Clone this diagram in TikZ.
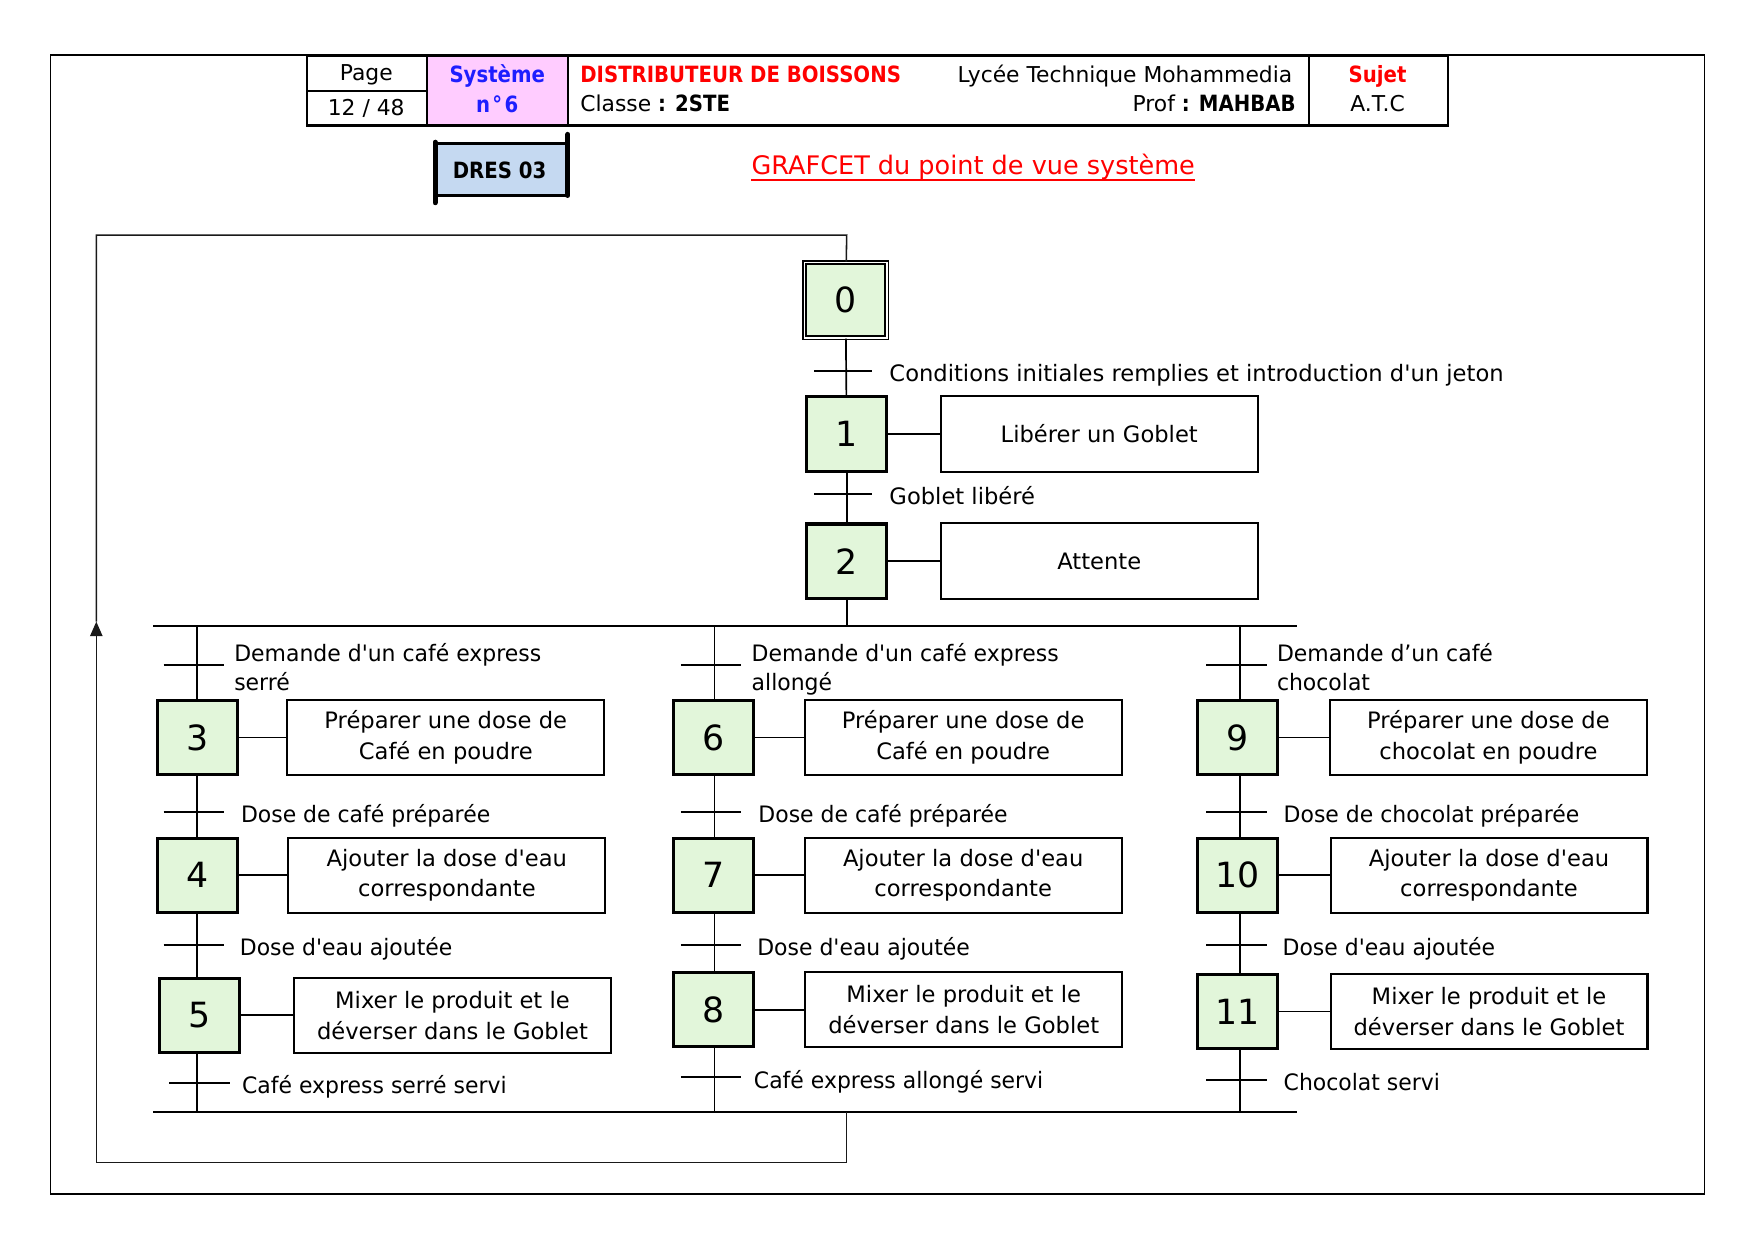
\documentclass[tikz,border=0pt]{standalone}
\usepackage{fontspec}
\newfontfamily\mainf{DejaVu Sans}
\newfontfamily\narrowf{DejaVu Sans}[FakeStretch=0.88]
\newfontfamily\labelf{DejaVu Sans}[FakeStretch=0.97]
\usetikzlibrary{arrows.meta}
\definecolor{stepgreen}{RGB}{226,246,218}
\definecolor{pinkcell}{RGB}{255,204,255}
\definecolor{dresblue}{RGB}{197,217,241}
\definecolor{hdrblue}{RGB}{30,30,255}
\definecolor{hdrred}{RGB}{255,0,0}
\newcommand\bodyfont{\labelf\fontsize{20.2}{25.5}\selectfont}
\newcommand\actfont{\mainf\fontsize{20.2}{27.5}\selectfont}
\newcommand\numfont{\mainf\fontsize{31}{31}\selectfont}
\newcommand\hdrfont{\mainf\fontsize{19.5}{24}\selectfont}
\newcommand\hdrbold{\narrowf\bfseries\fontsize{20}{24}\selectfont}
\newcommand\titlefont{\mainf\fontsize{22.8}{26}\selectfont}
\begin{document}
\begin{tikzpicture}[x=1pt,y=-1pt,
  lbl/.style={font=\bodyfont, inner sep=0pt, anchor=base west},
  stepbox/.style={draw, line width=2.7pt, fill=stepgreen, minimum width=71.3pt, minimum height=66.3pt, inner sep=0pt, font=\numfont},
  initstep/.style={draw, line width=1.5pt, double=white, double distance=1.6pt, fill=stepgreen, minimum width=73.4pt, minimum height=67.4pt, inner sep=0pt, font=\numfont},
  actbox/.style={draw, line width=1.8pt, minimum width=283pt, minimum height=67.2pt, inner sep=0pt, align=center, font=\actfont},
  link/.style={line width=1.5pt},
  tick/.style={line width=1.8pt},
  bar/.style={line width=1.8pt},
  loopline/.style={line width=1.4pt, draw=black!90},
  hdr/.style={inner sep=0pt, font=\hdrfont, anchor=base}
]
\useasboundingbox (0,0) rectangle (1567,1112);

% ---------- frame and header ----------
\draw[line width=1.5pt] (45,49) rectangle (1522,1066);
\fill[pinkcell] (381,50) rectangle (507,112);
\draw[line width=2pt] (274,50) rectangle (1293,112);
\draw[line width=2pt] (381,50) -- (381,112);
\draw[line width=2pt] (507,50) -- (507,112);
\draw[line width=2pt] (1169,50) -- (1169,112);
\draw[line width=2pt] (274,81) -- (381,81);

\node[hdr] (pg) at (327,72) {Page};
\node[hdr] (pgn) at (327,103.5) {12 / 48};
\node[hdr, font=\hdrbold, text=hdrblue] (sys) at (444,74) {Système};
\node[hdr, font=\hdrbold, text=hdrblue] (sysn) at (444,100) {n\kern2pt°\kern2pt6};
\node[hdr, font=\hdrbold, text=hdrred, anchor=base west] (dist) at (518,73.5) {DISTRIBUTEUR DE BOISSONS};
\node[hdr, anchor=base west] (cls) at (518,99.5) {Classe {\hdrbold : 2STE}};
\node[hdr, anchor=base east] (lyc) at (1154,73.5) {Lycée Technique Mohammedia};
\node[hdr, anchor=base east] (prof) at (1157,99.5) {Prof {\hdrbold : MAHBAB}};
\node[hdr, font=\hdrbold, text=hdrred] (suj) at (1230,73.5) {Sujet};
\node[hdr] (atc) at (1230,99.5) {A.T.C};

% DRES 03 tag
\fill[dresblue] (389,128) rectangle (507,174.5);
\draw[line width=3pt, line cap=round] (389,128) -- (507,128);
\draw[line width=3pt, line cap=round] (389,174.5) -- (507,174.5);
\draw[line width=4.5pt, line cap=round] (388.5,127) -- (388.5,181);
\draw[line width=4.5pt, line cap=round] (507,120) -- (507,174.5);
\node[hdr, font=\hdrbold] (dres) at (446,159) {DRES 03};

% title
\node[hdr, font=\titlefont, text=hdrred] (title) at (869,156) {GRAFCET du point de vue système};
\draw[hdrred, line width=1.5pt] ([yshift=-4.5pt]title.base west) -- ([yshift=-4.5pt]title.base east);

% ---------- main sequence ----------
\node[initstep] (s0) at (755,268) {0};
\node[stepbox] (s1) at (756,387.5) {1};
\node[stepbox] (s2) at (756,501) {2};
\node[actbox] (a1) at (981.5,387.5) {Libérer un Goblet};
\node[actbox] (a2) at (981.5,501) {Attente};
\draw[link] (s1) -- (a1);
\draw[link] (s2) -- (a2);

\coordinate (t01) at (753,331);
\coordinate (t12) at (753,441);
\draw[link] (s0) -- (s1);
\draw[link] (s1) -- (s2);
\draw[tick] ([xshift=-26pt]t01) -- ([xshift=26pt]t01);
\draw[tick] ([xshift=-26pt]t12) -- ([xshift=26pt]t12);
\node[lbl] (l01) at (794,340.5) {\mainf Conditions initiales remplies et introduction d'un jeton};
\node[lbl] (l12) at (794,450.5) {\mainf Goblet libéré};

% divergence / convergence bars
\coordinate (d0) at (756,559);
\coordinate (dl) at (137,559);
\coordinate (dr) at (1158,559);
\coordinate (cl) at (137,993);
\coordinate (cr) at (1158,993);
\draw[link] (s2) -- (d0);
\draw[bar] (dl) -- (dr);
\draw[bar] (cl) -- (cr);

% ---------- branch 1 ----------
\coordinate (d1) at (176,559);
\coordinate (e1) at (176,993);
\node[stepbox] (s3) at (176,658.5) {3};
\node[stepbox] (s4) at (176,781.5) {4};
\node[stepbox] (s5) at (178,906.5) {5};
\node[actbox] (a3) at (398,658.5) {Préparer une dose de\\Café en poudre};
\node[actbox] (a4) at (399,781.5) {Ajouter la dose d'eau\\correspondante};
\node[actbox] (a5) at (404,906.5) {Mixer le produit et le\\déverser dans le Goblet};
\draw[link] (s3) -- (a3);
\draw[link] (s4) -- (a4);
\draw[link] (s5) -- (a5);
\draw[link] (d1) -- (s3);
\draw[link] (s3) -- (s4);
\draw[link] (s4.south) -- (s4.south |- s5.north);
\draw[link] (s4.south |- s5.south) -- (e1);
\coordinate (t3) at (173,594);
\coordinate (t34) at (173,725);
\coordinate (t45) at (173,844);
\coordinate (t5e) at (178,967);
\foreach \t in {t3,t34,t45,t5e}{\draw[tick] ([xshift=-27pt]\t) -- ([xshift=27pt]\t);}
\node[lbl] (l3a) at (209,591) {Demande d'un café express};
\node[lbl] (l3b) at (209,616.5) {serré};
\node[lbl] (l34) at (215,734.5) {Dose de café préparée};
\node[lbl] (l45) at (214,853.5) {Dose d'eau ajoutée};
\node[lbl] (l5e) at (216,976.5) {Café express serré servi};

% ---------- branch 2 ----------
\coordinate (d2) at (638,559);
\coordinate (e2) at (638,993);
\node[stepbox] (s6) at (637,658.5) {6};
\node[stepbox] (s7) at (637,781.5) {7};
\node[stepbox] (s8) at (637,901.5) {8};
\node[actbox] (a6) at (860,658.5) {Préparer une dose de\\Café en poudre};
\node[actbox] (a7) at (860,781.5) {Ajouter la dose d'eau\\correspondante};
\node[actbox] (a8) at (860.5,901.5) {Mixer le produit et le\\déverser dans le Goblet};
\draw[link] (s6) -- (a6);
\draw[link] (s7) -- (a7);
\draw[link] (s8) -- (a8);
\draw[link] (d2) -- (d2 |- s6.north);
\draw[link] (d2 |- s6.south) -- (d2 |- s7.north);
\draw[link] (d2 |- s7.south) -- (d2 |- s8.north);
\draw[link] (d2 |- s8.south) -- (e2);
\coordinate (t6) at (635,594);
\coordinate (t67) at (635,725);
\coordinate (t78) at (635,844);
\coordinate (t8e) at (635,962);
\foreach \t in {t6,t67,t78,t8e}{\draw[tick] ([xshift=-27pt]\t) -- ([xshift=27pt]\t);}
\node[lbl] (l6a) at (671,591) {Demande d'un café express};
\node[lbl] (l6b) at (671,616.5) {allongé};
\node[lbl] (l67) at (677,734.5) {Dose de café préparée};
\node[lbl] (l78) at (676,853.5) {Dose d'eau ajoutée};
\node[lbl] (l8e) at (673,971.5) {Café express allongé servi};

% ---------- branch 3 ----------
\coordinate (d3) at (1107,559);
\coordinate (e3) at (1107,993);
\node[stepbox] (s9) at (1105,658.5) {9};
\node[stepbox] (s10) at (1105,781.5) {10};
\node[stepbox] (s11) at (1105,903) {11};
\node[actbox] (a9) at (1329,658.5) {Préparer une dose de\\chocolat en poudre};
\node[actbox] (a10) at (1329.5,781.5) {Ajouter la dose d'eau\\correspondante};
\node[actbox] (a11) at (1329.5,903) {Mixer le produit et le\\déverser dans le Goblet};
\draw[link] (s9) -- (a9);
\draw[link] (s10) -- (a10);
\draw[link] (s11) -- (a11);
\draw[link] (d3) -- (d3 |- s9.north);
\draw[link] (d3 |- s9.south) -- (d3 |- s10.north);
\draw[link] (d3 |- s10.south) -- (d3 |- s11.north);
\draw[link] (d3 |- s11.south) -- (e3);
\coordinate (t9) at (1104,594);
\coordinate (t910) at (1104,725);
\coordinate (t1011) at (1104,844);
\coordinate (t11e) at (1104,964);
\foreach \t in {t9,t910,t1011,t11e}{\draw[tick] ([xshift=-27pt]\t) -- ([xshift=27pt]\t);}
\node[lbl] (l9a) at (1140,591) {Demande d’un café};
\node[lbl] (l9b) at (1140,616.5) {chocolat};
\node[lbl] (l910) at (1146,734.5) {Dose de chocolat préparée};
\node[lbl] (l1011) at (1145,853.5) {Dose d'eau ajoutée};
\node[lbl] (l11e) at (1146,973.5) {Chocolat servi};

% ---------- return loop ----------
\coordinate (e0) at (756,993);
\coordinate (r1) at (756,1038);
\coordinate (r2) at (86,1038);
\coordinate (r3) at (86,555);
\coordinate (r4) at (86,210);
\coordinate (r5) at (756,210);
\draw[loopline, -{Triangle[length=13pt,width=11pt]}] (e0) -- (r1) -- (r2) -- (r3);
\draw[loopline] (r3) -- (r4) -- (r5) -- (s0);
\end{tikzpicture}
\end{document}
